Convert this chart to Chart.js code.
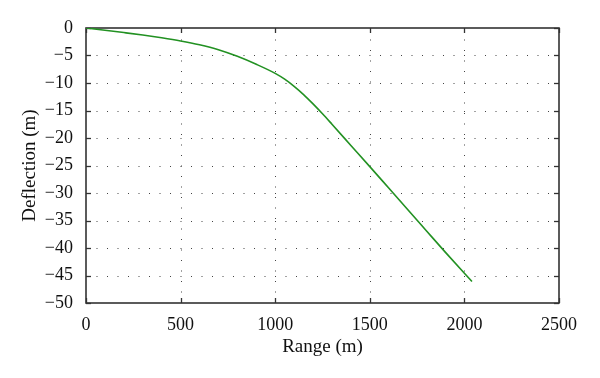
<!DOCTYPE html>
<html>
<head>
<meta charset="utf-8">
<script src="https://cdn.jsdelivr.net/npm/chart.js@4.4.0/dist/chart.umd.min.js"></script>
<style>
  html, body { margin: 0; padding: 0; background: #fff; }
  #wrap { width: 600px; height: 378px; }
</style>
</head>
<body>
<div id="wrap"><canvas id="c" width="600" height="378"></canvas></div>
<script>
// ---- data ----
const rangeValues = [0, 100, 200, 300, 400, 500, 600, 700, 800, 900, 1000, 1050, 1100, 1150, 1200, 1250, 1300, 1400, 1500, 1600, 1700, 1800, 1900, 2000, 2040];
const deflectionValues = [0, -0.4, -0.83, -1.28, -1.78, -2.35, -3.05, -3.95, -5.15, -6.6, -8.25, -9.3, -10.6, -12.1, -13.8, -15.6, -17.5, -21.35, -25.2, -29.1, -33.0, -36.9, -40.8, -44.6, -46.1];
const xTicks = [0, 500, 1000, 1500, 2000, 2500];
const yTicks = [0, -5, -10, -15, -20, -25, -30, -35, -40, -45, -50];
const xTitle = 'Range (m)';
const yTitle = 'Deflection (m)';

const points = rangeValues.map((x, i) => ({ x: x, y: deflectionValues[i] }));
const fmt = v => (v < 0 ? '\u2212' + Math.abs(v) : String(v));
const FONT = "'Liberation Serif', 'DejaVu Serif', serif";

const framePlugin = {
  id: 'frame',
  beforeDatasetsDraw(chart) {
    const { ctx, chartArea: a, scales: { x, y } } = chart;
    ctx.save();
    // dotted grid
    ctx.strokeStyle = '#444';
    ctx.lineWidth = 1;
    ctx.setLineDash([1, 9.5]);
    xTicks.forEach(v => {
      if (v === xTicks[0] || v === xTicks[xTicks.length - 1]) return;
      const px = Math.round(x.getPixelForValue(v)) + 0.5;
      ctx.beginPath(); ctx.moveTo(px, a.bottom); ctx.lineTo(px, a.top); ctx.stroke();
    });
    yTicks.forEach(v => {
      if (v === yTicks[0] || v === yTicks[yTicks.length - 1]) return;
      const py = Math.round(y.getPixelForValue(v)) + 0.5;
      ctx.beginPath(); ctx.moveTo(a.left, py); ctx.lineTo(a.right, py); ctx.stroke();
    });
    ctx.setLineDash([]);
    // inner ticks on all four sides
    ctx.strokeStyle = '#333';
    ctx.lineWidth = 1.3;
    const tl = 5;
    xTicks.forEach(v => {
      const px = Math.round(x.getPixelForValue(v)) + 0.5;
      ctx.beginPath(); ctx.moveTo(px, a.bottom); ctx.lineTo(px, a.bottom - tl); ctx.stroke();
      ctx.beginPath(); ctx.moveTo(px, a.top); ctx.lineTo(px, a.top + tl); ctx.stroke();
    });
    yTicks.forEach(v => {
      const py = Math.round(y.getPixelForValue(v)) + 0.5;
      ctx.beginPath(); ctx.moveTo(a.left, py); ctx.lineTo(a.left + tl, py); ctx.stroke();
      ctx.beginPath(); ctx.moveTo(a.right, py); ctx.lineTo(a.right - tl, py); ctx.stroke();
    });
    // frame
    ctx.lineWidth = 1.6;
    ctx.strokeStyle = '#333';
    ctx.strokeRect(a.left, a.top, a.right - a.left, a.bottom - a.top);
    ctx.restore();
  }
};

new Chart(document.getElementById('c'), {
  type: 'scatter',
  data: {
    datasets: [{
      data: points,
      showLine: true,
      borderColor: '#229122',
      borderWidth: 1.6,
      pointRadius: 0,
      cubicInterpolationMode: 'monotone',
      fill: false
    }]
  },
  options: {
    responsive: false,
    animation: false,
    layout: { padding: { left: 0, top: 28, right: 41, bottom: 0 } },
    plugins: { legend: { display: false }, tooltip: { enabled: false } },
    scales: {
      x: {
        type: 'linear',
        min: 0, max: 2500,
        afterBuildTicks: s => { s.ticks = xTicks.map(v => ({ value: v })); },
        afterFit: s => { s.height = 75; },
        grid: { display: false },
        border: { display: false },
        ticks: { color: '#111', font: { family: FONT, size: 18 }, padding: 3, maxRotation: 0, callback: v => fmt(v) },
        title: { display: true, text: xTitle, color: '#111', font: { family: FONT, size: 19 }, padding: { top: 0, bottom: 20 } }
      },
      y: {
        type: 'linear',
        min: -50, max: 0,
        afterBuildTicks: s => { s.ticks = yTicks.map(v => ({ value: v })); },
        afterFit: s => { s.width = 86; },
        grid: { display: false },
        border: { display: false },
        ticks: { color: '#111', font: { family: FONT, size: 18 }, padding: 5, callback: v => fmt(v) },
        title: { display: true, text: yTitle, color: '#111', font: { family: FONT, size: 19 }, padding: { top: 19, bottom: 0 } }
      }
    }
  },
  plugins: [framePlugin]
});
</script>
</body>
</html>
